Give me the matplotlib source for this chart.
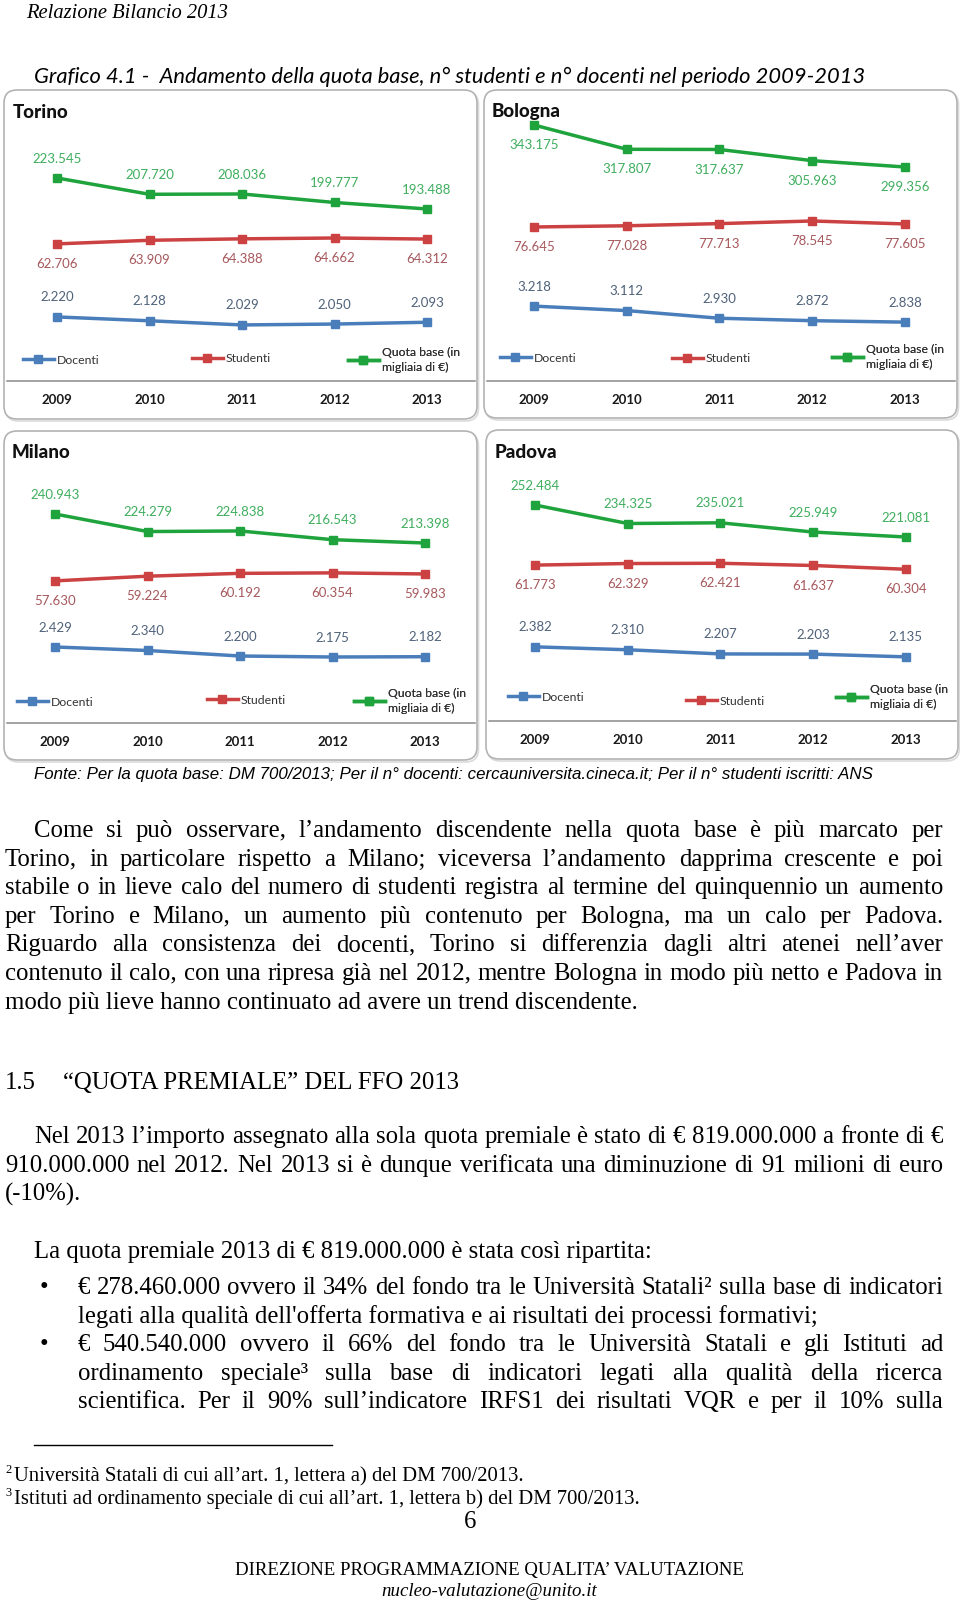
import matplotlib
matplotlib.use('Agg')
import matplotlib.pyplot as plt
from matplotlib.patches import FancyBboxPatch
from matplotlib.lines import Line2D
from matplotlib.transforms import IdentityTransform
from matplotlib import font_manager

years = ['2009', '2010', '2011', '2012', '2013']
cities = ['Torino', 'Bologna', 'Milano', 'Padova']

quota_torino = [223545, 207720, 208036, 199777, 193488]
studenti_torino = [62706, 63909, 64388, 64662, 64312]
docenti_torino = [2220, 2128, 2029, 2050, 2093]

quota_bologna = [343175, 317807, 317637, 305963, 299356]
studenti_bologna = [76645, 77028, 77713, 78545, 77605]
docenti_bologna = [3218, 3112, 2930, 2872, 2838]

quota_milano = [240943, 224279, 224838, 216543, 213398]
studenti_milano = [57630, 59224, 60192, 60354, 59983]
docenti_milano = [2429, 2340, 2200, 2175, 2182]

quota_padova = [252484, 234325, 235021, 225949, 221081]
studenti_padova = [61773, 62329, 62421, 61637, 60304]
docenti_padova = [2382, 2310, 2207, 2203, 2135]

quota = [quota_torino, quota_bologna, quota_milano, quota_padova]
studenti = [studenti_torino, studenti_bologna, studenti_milano, studenti_padova]
docenti = [docenti_torino, docenti_bologna, docenti_milano, docenti_padova]

# every series has its own y scale in the original excel charts
quota_lim = [(26600, 308900), (76000, 379700), (42400, 319800), (40500, 326100)]
studenti_lim = [(17000, 114000), (27900, 120000), (9300, 108600), (6700, 109500)]
docenti_lim = [(690, 7640), (1440, 8350), (500, 7910), (550, 7740)]

W, H = 960, 1601
fig = plt.figure(figsize=(W / 100, H / 100), dpi=100)
fig.patch.set_facecolor('white')

# layout in page pixels (x0, y0, x1, y1), y from the top
boxes = [(4, 90, 477, 419), (484, 90, 957, 418), (4, 431, 477, 760), (486, 430, 958, 759)]
plots = [(7, 90, 475, 381), (487, 90, 955, 381), (7, 431, 475, 723), (489, 430, 956, 721)]
xlims = [(-0.541, 4.519), (-0.507, 4.54), (-0.519, 4.54), (-0.496, 4.54)]
title_xy = [(13, 113), (492, 112), (12, 453), (495, 453)]
legend_xy = [[(23, 360), (192, 359), (348, 360)],
             [(500, 358), (672, 359), (832, 357)],
             [(17, 702), (207, 700), (354, 701)],
             [(508, 697), (686, 701), (836, 697)]]
quota_above = [True, False, True, True]

blue, red, green = '#4a7ebb', '#cc4141', '#1fa33c'
blue_t, red_t, green_t = '#4f627a', '#a6585c', '#3fae5e'
CH = 'Lato'


def fmt(v):
    return f'{v:,}'.replace(',', '.')


for i, city in enumerate(cities):
    bx0, by0, bx1, by1 = boxes[i]
    for dx, dy, fc, ec in [(1.5, -2, 'none', '#dadada'), (0, 0, 'white', '#b3b3b3')]:
        p = FancyBboxPatch((bx0 + dx, H - by1 + dy), bx1 - bx0, by1 - by0,
                           boxstyle='round,pad=0,rounding_size=13',
                           transform=IdentityTransform(), fc=fc, ec=ec, lw=1.2, zorder=-1)
        fig.add_artist(p)

    px0, py0, px1, py1 = plots[i]
    ax = fig.add_axes([px0 / W, 1 - py1 / H, (px1 - px0) / W, (py1 - py0) / H])
    ax.patch.set_visible(False)
    ax.set_xlim(xlims[i])
    ax.set_yticks([])
    for s in ['left', 'right', 'top']:
        ax.spines[s].set_visible(False)
    ax.spines['bottom'].set_color('#8a8a8a')
    ax.spines['bottom'].set_linewidth(1.1)
    ax.set_xticks(range(len(years)))
    ax.set_xticklabels(years, fontsize=9.5, fontweight='bold', family=CH, color='#1a1a1a')
    ax.tick_params(axis='x', length=0, pad=9)

    fig.text(title_xy[i][0] / W, 1 - title_xy[i][1] / H, city, fontsize=13.5,
             fontweight='black', family=CH, va='center', ha='left', color='#111111')

    qdy = 14 if quota_above[i] else -14.5
    series = [(docenti[i], docenti_lim[i], blue, blue_t, 14, 'Docenti'),
              (studenti[i], studenti_lim[i], red, red_t, -14.5, 'Studenti'),
              (quota[i], quota_lim[i], green, green_t, qdy, 'Quota base (in\nmigliaia di €)')]
    handles = []
    for vals, lim, col, tcol, dy, name in series:
        sa = ax.twinx()
        sa.set_ylim(lim)
        sa.set_axis_off()
        ln, = sa.plot(range(len(years)), vals, color=col, lw=2.5, marker='s', ms=6,
                      label=name)
        for x, v in enumerate(vals):
            sa.annotate(fmt(v), (x, v), xytext=(0, dy), textcoords='offset points',
                        ha='center', va='center', fontsize=9.5, color=tcol, family=CH)
        handles.append(ln)

    for j, ln in enumerate(handles):
        lx, ly = legend_xy[i][j]
        leg = ax.legend([ln], [ln.get_label()], loc='center left',
                        bbox_to_anchor=((lx - px0) / (px1 - px0), (py1 - ly) / (py1 - py0)),
                        frameon=False, borderpad=0, borderaxespad=0, handlelength=2.5,
                        handletextpad=0.25, numpoints=1, prop={'family': CH, 'size': 8.8})
        for t in leg.get_texts():
            t.set_color('#333333')
            t.set_linespacing(1.35)
        ax.add_artist(leg)

# ---- page text ----
r = fig.canvas.get_renderer()
names = {f.name for f in font_manager.fontManager.ttflist}
NARROW = 'Liberation Sans Narrow' if 'Liberation Sans Narrow' in names else 'Liberation Sans'
SERIF = 'Liberation Serif'


def size_for(s, target, **kw):
    t = fig.text(0, 0, s, fontsize=10, **kw)
    w = t.get_window_extent(r).width
    t.remove()
    return 10 * target / w


def put(x, yc, s, size, ha='left', **kw):
    return fig.text(x / W, 1 - (yc + 0.3 * size / 0.72) / H, s, fontsize=size,
                    ha=ha, va='baseline', **kw)


def justify(x0, x1, yc, s, size, **kw):
    words = s.split()
    arts = [put(0, yc, w, size, **kw) for w in words]
    widths = [a.get_window_extent(r).width for a in arts]
    gap = (x1 - x0 - sum(widths)) / (len(words) - 1)
    x = x0
    for a, w in zip(arts, widths):
        a.set_x(x / W)
        x += w + gap


hs = size_for('Relazione Bilancio 2013', 203, family=SERIF, style='italic')
put(26, 12, 'Relazione Bilancio 2013', hs, family=SERIF, style='italic')

gt = 'Grafico 4.1 -  Andamento della quota base, n° studenti e n° docenti nel periodo 2009-2013'
gs = size_for(gt, 829, family=CH, style='italic')
put(34, 76, gt, gs, family=CH, style='italic')

ft = ('Fonte: Per la quota base: DM 700/2013; Per il n° docenti: cercauniversita.cineca.it; '
      'Per il n° studenti iscritti: ANS')
fs = size_for(ft, 842, family=NARROW, style='italic')
put(34, 774, ft, fs, family=NARROW, style='italic')

bs = size_for('modo più lieve hanno continuato ad avere un trend discendente.', 634, family=SERIF)

para1 = ['Come si può osservare, l’andamento discendente nella quota base è più marcato per',
         'Torino, in particolare rispetto a Milano; viceversa l’andamento dapprima crescente e poi',
         'stabile o in lieve calo del numero di studenti registra al termine del quinquennio un aumento',
         'per Torino e Milano, un aumento più contenuto per Bologna, ma un calo per Padova.',
         'Riguardo alla consistenza dei docenti, Torino si differenzia dagli altri atenei nell’aver',
         'contenuto il calo, con una ripresa già nel 2012, mentre Bologna in modo più netto e Padova in']
for k, line in enumerate(para1):
    justify(34 if k == 0 else 5, 943, 829.5 + 28.6 * k, line, bs, family=SERIF)
put(5, 829.5 + 28.6 * 6, 'modo più lieve hanno continuato ad avere un trend discendente.', bs, family=SERIF)

put(5, 1082, '1.5', bs, family=SERIF)
put(63, 1082, '“QUOTA PREMIALE” DEL FFO 2013', bs, family=SERIF)

justify(34, 943, 1136, 'Nel 2013 l’importo assegnato alla sola quota premiale è stato di € 819.000.000 a fronte di €', bs, family=SERIF)
justify(5, 943, 1164.5, '910.000.000 nel 2012.  Nel 2013 si è dunque verificata una diminuzione di 91 milioni di euro', bs, family=SERIF)
put(5, 1193, '(-10%).', bs, family=SERIF)

put(34, 1251, 'La quota premiale 2013 di € 819.000.000 è stata così ripartita:', bs, family=SERIF)
for yb in [1287, 1344]:
    put(44, yb, '•', bs, ha='center', family=SERIF)
justify(78, 943, 1287, '€ 278.460.000 ovvero il 34% del fondo tra le Università Statali² sulla base di indicatori', bs, family=SERIF)
put(78, 1315.5, "legati alla qualità dell'offerta formativa e ai risultati dei processi formativi;", bs, family=SERIF)
justify(78, 943, 1344, '€ 540.540.000 ovvero il 66% del fondo tra le Università Statali e gli Istituti ad', bs, family=SERIF)
justify(78, 943, 1372.5, 'ordinamento speciale³ sulla base di indicatori legati alla qualità della ricerca', bs, family=SERIF)
justify(78, 943, 1401, 'scientifica. Per il 90% sull’indicatore IRFS1 dei risultati VQR e per il 10% sulla', bs, family=SERIF)

fig.add_artist(Line2D([34 / W, 332 / W], [1 - 1445 / H] * 2, transform=fig.transFigure,
                      color='black', lw=1))

fn1 = 'Università Statali di cui all’art. 1, lettera a) del DM 700/2013.'
fn2 = 'Istituti ad ordinamento speciale di cui all’art. 1, lettera b) del DM 700/2013.'
ns = size_for(fn1, 513, family=SERIF)
for yc, sup, txt in [(1475, '2', fn1), (1498, '3', fn2)]:
    put(14, yc, txt, ns, family=SERIF)
    put(5, yc - 6, sup, ns * 0.6, family=SERIF)

put(470, 1521, '6', bs, ha='center', family=SERIF)
dt = 'DIREZIONE PROGRAMMAZIONE QUALITA’ VALUTAZIONE'
ds = size_for(dt, 513, family=SERIF)
put(489, 1569, dt, ds, ha='center', family=SERIF)
put(489, 1590, 'nucleo-valutazione@unito.it', ds, ha='center', family=SERIF, style='italic')

fig.savefig('out.png', dpi=100, facecolor='white')
